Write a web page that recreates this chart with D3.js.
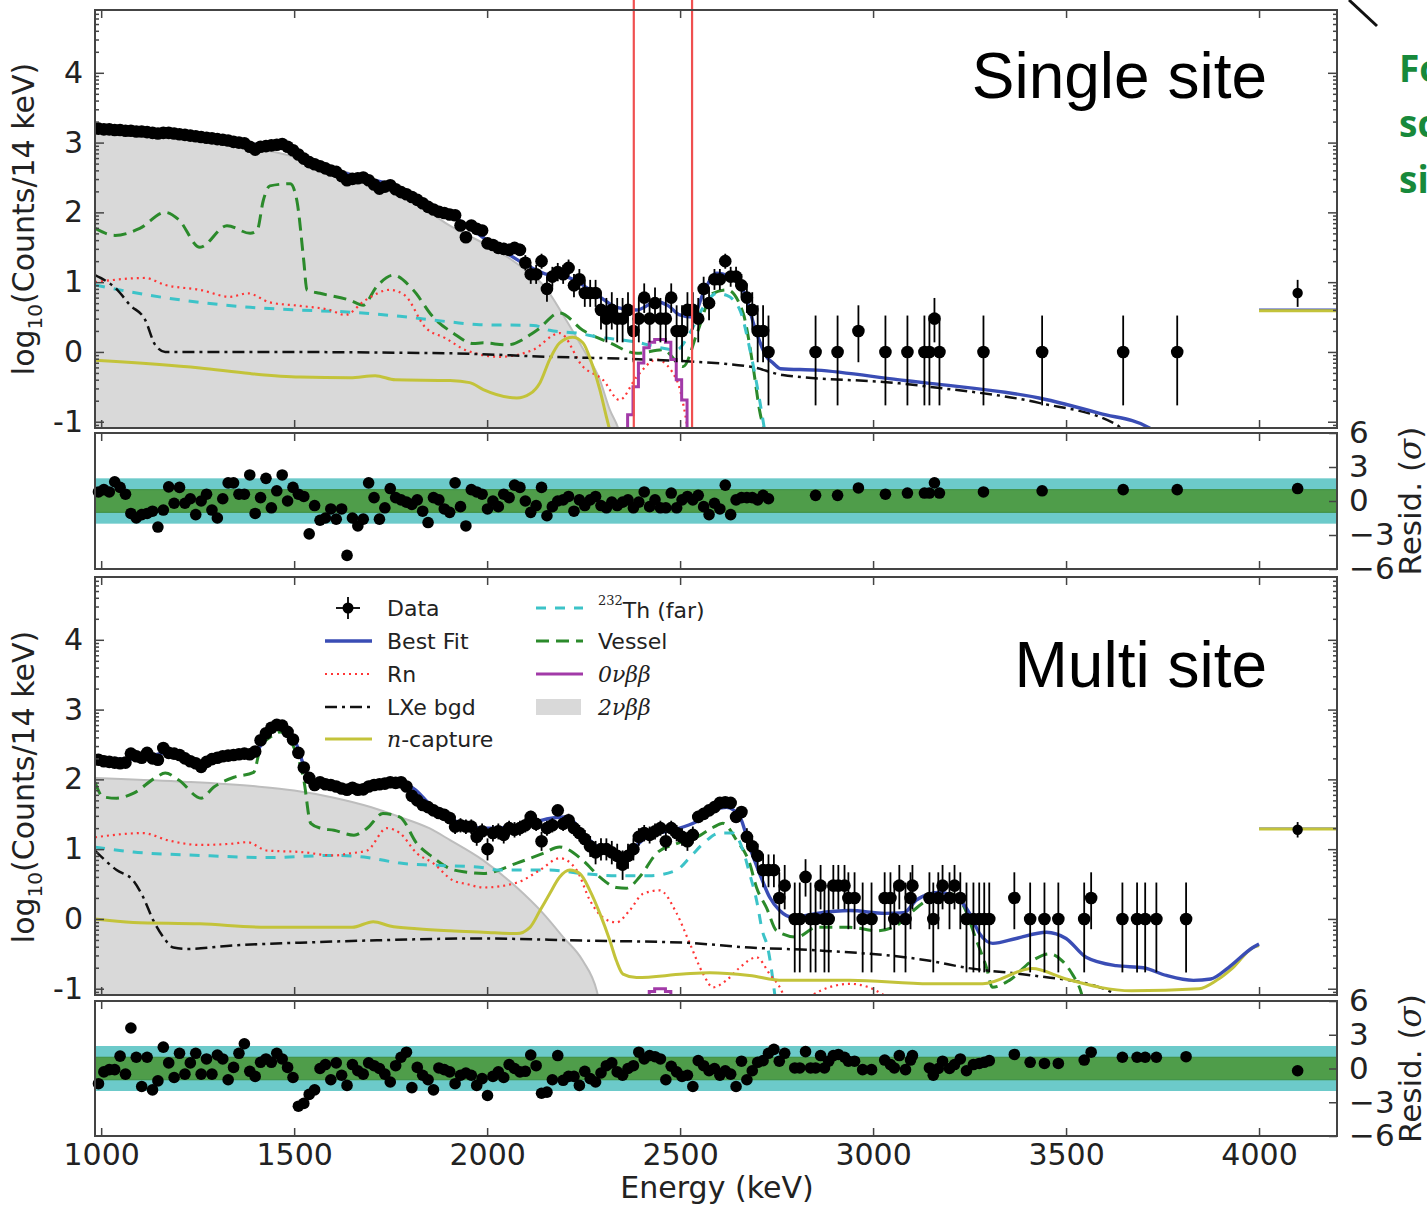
<!DOCTYPE html>
<html>
<head>
<meta charset="utf-8">
<script src="https://cdn.jsdelivr.net/npm/d3@7"></script>
<style>
body { margin: 0; background: #fff; }
svg { display: block; }
</style>
</head>
<body>
<div id="container"></div>
<script>
// ---------- data ----------
// histogram bins: 14 keV wide, first bin centred at 993 keV
var binStart = 993, binWidth = 14;

// single site: counts per bin
var ssCounts = [
  1585,1549,1549,1514,1514,1479,1479,1445,1445,1413,
  1380,1349,1380,1380,1349,1318,1288,1259,1230,1202,
  1175,1148,1122,1096,1072,1023,1000,977,871,794,
  871,891,912,933,955,871,776,676,589,525,
  490,457,427,398,380,331,288,302,309,316,
  288,251,219,234,245,214,195,182,166,151,
  135,120,110,102,98,93,91,65,44,65,
  58,55,36,34,31,30,29,31,29,19,
  13,13,20,8,12,14,13,16,9,11,
  7,7,7,4,3,4,3,3,4,2,
  3,6,3,5,3,3,6,2,2,4,
  4,3,8,5,11,11,20,12,12,9,
  6,4,2,2,1
];
var ssResid = [
  0.8,1.0,0.8,1.7,1.2,0.6,-1.1,-1.5,-1.2,-1.1,
  -0.9,-2.3,-0.8,1.25,-0.2,1.2,-0.2,0.2,-1.2,0,
  0.6,-0.8,-1.5,0.2,1.6,1.6,0.6,0.6,2.3,-1.1,
  0.3,2.0,-0.6,0.9,2.3,0,1.2,0.6,0.4,-2.9,
  -0.4,-1.7,-1.5,-0.7,-1.6,-0.7,-4.8,-1.5,-2.2,-1.6,
  1.6,0.3,-1.6,-0.6,1.1,0.3,0.1,-0.1,-0.3,0.1,
  -0.9,-1.9,0.3,0.1,-0.7,-1.0,1.6,-0.5,-2.2,1.0,
  0.8,0.6,-0.7,0,-0.5,0.6,0.3,1.4,1.2,0,
  -1.0,-0.4,1.2,-1.3,-0.5,0,0.1,0.4,-0.9,0.1,
  -0.4,0.1,0.4,-0.4,-0.6,-0.1,-0.4,-0.1,0.1,-0.6,
  -0.1,0.8,-0.5,0.1,-0.6,-0.6,0.7,-0.6,0.1,0.4,
  0.1,0.5,-0.5,-1.2,-0.2,-0.7,1.4,-1.2,0.1,0.3,
  0.3,0.3,0.1,0.5,0.2
];
// isolated non-empty bins above the dense region (last one = overflow bin)
var ssSparseE = [2851,2908,2962,3032,3089,3133,3146,3159,3172,3286,3438,3648,3788,4100];
var ssSparseN = [1,1,2,1,1,1,1,3,1,1,1,1,1,7];
var ssSparseR = [0.5,0.5,1.15,0.6,0.7,0.7,0.7,1.6,0.7,0.8,0.9,1.0,1.0,1.1];

// single site model components: [energy keV, log10 counts]
var ssTwoNu = [[984,3.19],[1100,3.13],[1200,3.07],[1300,3.0],[1400,2.92],[1500,2.8],[1600,2.64],[1700,2.45],[1800,2.2],[1900,1.82],[2000,1.53],[2050,1.37],[2100,1.17],[2150,0.93],[2200,0.5],[2250,0.03],[2292,-0.4],[2318,-0.83],[2340,-1.1],[2350,-1.3]];
var ssVessel = [[984,1.77],[1036,1.67],[1100,1.77],[1166,2.0],[1200,1.9],[1256,1.5],[1326,1.81],[1386,1.7],[1404,1.74],[1420,2.17],[1437,2.38],[1490,2.41],[1507,2.17],[1525,1.3],[1533,0.89],[1567,0.84],[1645,0.74],[1679,0.67],[1713,0.93],[1757,1.1],[1808,0.89],[1860,0.5],[1912,0.27],[1964,0.12],[1990,0.13],[2051,0.1],[2129,0.31],[2188,0.56],[2248,0.31],[2318,0.13],[2388,-0.02],[2456,0.03],[2508,-0.21],[2544,0.27],[2585,0.84],[2622,0.89],[2663,0.56],[2689,-0.21],[2707,-0.87],[2733,-1.3]];
var ssThorium = [[984,0.96],[1127,0.81],[1256,0.71],[1386,0.64],[1515,0.6],[1645,0.57],[1774,0.51],[1904,0.43],[1981,0.39],[2120,0.38],[2162,0.31],[2232,0.27],[2292,0.21],[2352,0.17],[2396,0.13],[2440,0.07],[2491,0.03],[2525,0.27],[2560,0.64],[2595,0.84],[2621,0.81],[2655,0.6],[2681,0.03],[2706,-0.69],[2724,-1.3]];
var ssRadon = [[984,1.0],[1114,1.06],[1166,0.96],[1256,0.89],[1334,0.79],[1380,0.84],[1437,0.71],[1515,0.66],[1593,0.6],[1632,0.53],[1684,0.74],[1748,0.89],[1787,0.81],[1840,0.35],[1891,0.2],[1947,0.02],[2033,-0.07],[2119,0.03],[2188,0.27],[2248,-0.21],[2300,-0.4],[2343,-0.69],[2387,-0.36],[2439,-0.11],[2491,-0.4],[2510,-0.8],[2525,-1.3]];
var ssLXe = [[984,1.1],[1040,0.9],[1075,0.67],[1114,0.46],[1140,0.1],[1166,0.0],[1400,0.0],[1904,-0.02],[2162,-0.07],[2420,-0.11],[2680,-0.21],[2766,-0.33],[3068,-0.45],[3147,-0.5],[3430,-0.73],[3630,-1.04],[3670,-1.3]];
var ssNCapture = [[984,-0.12],[1256,-0.23],[1386,-0.31],[1515,-0.36],[1645,-0.37],[1710,-0.34],[1762,-0.4],[1904,-0.41],[1955,-0.44],[1990,-0.54],[2077,-0.66],[2111,-0.6],[2137,-0.44],[2162,-0.11],[2188,0.13],[2222,0.21],[2248,0.13],[2274,-0.21],[2292,-0.54],[2309,-0.93],[2326,-1.3]];
var ssZeroNu = [[2357,-1.3],[2371,-0.9],[2385,-0.5],[2399,-0.16],[2413,0.06],[2427,0.14],[2441,0.18],[2455,0.18],[2469,0.14],[2483,-0.11],[2497,-0.4],[2511,-0.69],[2525,-1.1],[2539,-1.3]];
var ssBestFit = [[984,3.2],[1100,3.15],[1200,3.08],[1300,3.02],[1380,2.97],[1440,2.98],[1500,2.87],[1560,2.7],[1620,2.58],[1700,2.47],[1760,2.38],[1800,2.27],[1860,2.1],[1900,1.98],[1950,1.8],[2000,1.6],[2050,1.42],[2100,1.25],[2150,1.12],[2205,1.08],[2250,0.95],[2292,0.79],[2335,0.64],[2387,0.6],[2439,0.72],[2470,0.66],[2499,0.53],[2533,0.5],[2560,0.84],[2595,1.13],[2629,1.07],[2663,0.89],[2698,0.27],[2724,-0.07],[2741,-0.16],[2760,-0.24],[2854,-0.26],[3068,-0.4],[3147,-0.45],[3430,-0.66],[3587,-0.88],[3716,-1.09],[3760,-1.3]];
var ssOverflowFit = 0.61, ssOverflowNCap = 0.59;

// multi site: counts per bin
var msCounts = [
  191,182,178,174,170,174,234,214,204,240,
  200,191,282,240,234,224,200,182,170,151,
  178,195,204,214,219,224,229,234,229,251,
  363,457,550,603,589,479,372,240,148,105,
  83,91,85,83,79,74,71,76,71,72,
  79,83,85,87,91,89,91,79,58,50,
  43,40,36,33,31,28,21,22,21,21,
  15,18,10,17,18,16,20,19,20,22,
  29,23,13,20,22,36,23,26,20,17,
  14,11,9,10,10,9,8,6,8,10,
  15,17,16,18,20,13,20,17,15,13,
  16,29,32,36,40,46,47,46,29,34,
  15,11,8,5,5,5,2,3
];
var msResid = [
  -1.35,-0.3,-0.1,-0.1,1.1,-0.5,3.6,1.0,-1.6,1.0,
  -1.9,-1.1,1.9,0.5,-0.8,1.35,-0.5,0.5,1.35,-0.5,
  0.85,-0.5,1.2,0.85,-1.0,0.1,1.35,2.2,-0.25,-0.7,
  0.55,0.85,0.55,1.35,0.85,0.1,-0.8,-3.35,-3.1,-2.3,
  -1.9,0,0.35,-1.0,0.5,-0.6,-1.5,0.35,-0.2,-0.5,
  0.5,0.25,0,-0.5,-1.2,0.25,1.0,1.45,-1.7,0.1,
  -0.6,-1.0,-1.9,0.05,-0.1,-0.3,-1.35,-0.6,-0.4,-0.6,
  -1.5,-0.9,-2.4,-0.7,-0.3,-0.8,0.35,0,-0.3,-0.25,
  1.2,0.25,-2.2,-2.1,-1.0,1.15,-1.05,-0.7,-0.7,-1.5,
  -0.25,-0.9,-1.2,-0.4,0.25,0.5,-0.3,-0.6,0,0.25,
  1.45,0.85,1.15,1.05,0.85,-1.0,0.2,-0.3,-0.7,-0.6,
  -1.6,0.7,0.25,-0.2,0,-0.6,-0.2,-0.5,-1.6,0.65,
  -1.0,-0.2,0.55,0.7,1.35,1.7,0.65,1.35
];
var msSparseE = [2797,2810,2825,2838,2851,2864,2874,2885,2897,2910,2926,2936,2952,2973,2996,3030,3045,3055,3068,3084,3097,3102,3146,3156,3169,3180,3198,3211,3226,3242,3260,3275,3288,3301,3366,3407,3444,3480,3547,3565,3646,3684,3705,3734,3811,4100];
var msSparseN = [1,1,4,1,1,3,1,1,3,3,3,2,2,1,1,2,2,1,3,1,2,3,2,1,2,3,2,3,2,1,1,1,1,1,2,1,1,1,1,2,1,1,1,1,1,19];
var msSparseR = [0.05,0.05,1.5,0.05,0.05,1.15,0.05,0.65,1.15,1.25,1.0,0.65,0.65,-0.1,-0.1,0.75,0.35,0.05,1.15,-0.1,0.75,1.15,0.05,-0.6,0,0.65,0,0.35,0.85,-0.2,0.35,0.45,0.55,0.7,1.25,0.55,0.45,0.45,0.75,1.45,1.0,1.0,1.0,1.0,1.05,-0.2];

// multi site model components
var msTwoNu = [[984,2.02],[1200,1.97],[1400,1.9],[1500,1.84],[1600,1.74],[1700,1.6],[1774,1.46],[1850,1.3],[1904,1.13],[1990,0.84],[2077,0.45],[2145,0.08],[2197,-0.26],[2248,-0.6],[2284,-1.03],[2295,-1.3]];
var msVessel = [[984,1.96],[1005,1.75],[1040,1.73],[1083,1.8],[1140,2.02],[1166,2.09],[1201,1.99],[1259,1.73],[1292,1.89],[1344,2.03],[1395,2.1],[1413,2.46],[1439,2.61],[1465,2.68],[1499,2.46],[1525,1.99],[1543,1.37],[1569,1.3],[1603,1.27],[1655,1.2],[1689,1.3],[1730,1.51],[1774,1.46],[1818,1.08],[1860,0.88],[1904,0.72],[1947,0.67],[1990,0.65],[2077,0.8],[2145,0.94],[2188,1.03],[2248,0.84],[2292,0.6],[2335,0.45],[2361,0.44],[2395,0.6],[2439,0.94],[2491,1.08],[2543,1.17],[2585,1.31],[2611,1.37],[2646,1.13],[2680,0.8],[2698,0.45],[2724,0.16],[2750,-0.17],[2802,-0.26],[2854,-0.12],[2940,-0.12],[3010,-0.17],[3060,-0.1],[3100,0.1],[3154,0.31],[3198,0.36],[3231,0.22],[3268,-0.31],[3294,-0.7],[3309,-0.98],[3353,-0.88],[3412,-0.6],[3457,-0.5],[3490,-0.6],[3516,-0.79],[3540,-1.07],[3550,-1.3]];
var msThorium = [[984,1.03],[1083,0.96],[1256,0.91],[1430,0.88],[1603,0.91],[1690,0.88],[1774,0.8],[1860,0.77],[1981,0.74],[2033,0.7],[2162,0.7],[2248,0.65],[2335,0.62],[2421,0.62],[2491,0.7],[2525,0.88],[2560,1.08],[2603,1.23],[2637,1.23],[2663,0.98],[2680,0.65],[2698,0.27],[2713,-0.17],[2727,-0.41],[2745,-1.07],[2750,-1.3]];
var msRadon = [[984,1.17],[1109,1.23],[1171,1.13],[1256,1.06],[1342,1.08],[1378,1.1],[1430,0.98],[1515,0.96],[1603,0.91],[1645,0.94],[1689,0.98],[1740,1.3],[1774,1.23],[1818,0.94],[1860,0.8],[1912,0.55],[1947,0.5],[1990,0.45],[2077,0.52],[2137,0.7],[2188,0.87],[2232,0.7],[2266,0.27],[2300,0.02],[2335,-0.05],[2369,0.12],[2404,0.36],[2447,0.41],[2491,0.08],[2525,-0.35],[2560,-0.79],[2585,-0.98],[2620,-0.88],[2654,-0.7],[2698,-0.55],[2732,-0.79],[2766,-1.07],[2780,-1.3],[2800,-1.4],[2840,-1.1],[2940,-0.93],[3030,-1.1],[3060,-1.4]];
var msLXe = [[984,0.98],[1040,0.7],[1083,0.55],[1109,0.31],[1135,-0.02],[1161,-0.26],[1187,-0.41],[1222,-0.43],[1342,-0.38],[1515,-0.34],[1689,-0.31],[1981,-0.28],[2248,-0.31],[2508,-0.34],[2681,-0.41],[2854,-0.45],[3147,-0.6],[3242,-0.7],[3413,-0.81],[3587,-0.98],[3630,-1.1],[3660,-1.3]];
var msNCapture = [[984,0.0],[1083,-0.05],[1256,-0.07],[1430,-0.12],[1650,-0.12],[1705,-0.04],[1748,-0.1],[1818,-0.14],[1904,-0.17],[1990,-0.19],[2077,-0.21],[2111,-0.12],[2137,0.12],[2162,0.36],[2188,0.6],[2214,0.7],[2240,0.65],[2266,0.41],[2292,0.08],[2318,-0.31],[2335,-0.6],[2352,-0.79],[2387,-0.84],[2508,-0.79],[2577,-0.77],[2680,-0.81],[2766,-0.88],[2940,-0.88],[3147,-0.93],[3284,-0.93],[3412,-0.71],[3500,-0.86],[3670,-1.03],[3845,-1.0],[3890,-0.88],[3932,-0.7],[3984,-0.41],[4000,-0.38]];
var msZeroNu = [[2413,-1.3],[2427,-1.04],[2441,-1.0],[2455,-1.0],[2469,-1.04],[2483,-1.3]];
var msBestFit = [[984,2.28],[1100,2.3],[1166,2.38],[1200,2.32],[1256,2.22],[1300,2.3],[1395,2.37],[1430,2.62],[1465,2.77],[1499,2.6],[1525,2.2],[1550,1.95],[1650,1.88],[1750,1.95],[1800,1.9],[1860,1.6],[1904,1.44],[1990,1.3],[2077,1.32],[2162,1.44],[2205,1.46],[2258,1.17],[2309,0.94],[2343,0.88],[2413,1.17],[2499,1.3],[2551,1.42],[2585,1.56],[2620,1.6],[2655,1.46],[2680,1.03],[2706,0.65],[2732,0.31],[2758,0.12],[2793,0.02],[2854,0.08],[2940,0.12],[3030,0.08],[3080,0.09],[3112,0.27],[3147,0.36],[3172,0.38],[3224,0.27],[3250,0.08],[3276,-0.21],[3310,-0.35],[3371,-0.28],[3449,-0.19],[3500,-0.28],[3552,-0.55],[3630,-0.67],[3700,-0.7],[3760,-0.81],[3830,-0.88],[3875,-0.86],[3920,-0.7],[3984,-0.41],[4000,-0.36]];
var msOverflowFit = 1.30, msOverflowNCap = 1.29;

// region of interest around Q(bb)
var roiEdges = [2380, 2531];
var xTicks = [1000, 1500, 2000, 2500, 3000, 3500, 4000];
var yTicks = [-1, 0, 1, 2, 3, 4];
var residTicks = [-6, -3, 0, 3, 6];

// ---------- drawing ----------
var W = 1427, H = 1207;
var svg = d3.select("div#container")
  .append("svg")
  .attr("width", W)
  .attr("height", H)
  .style("font-family", "'DejaVu Sans', sans-serif");

var x = d3.scaleLinear().domain([984, 4202]).range([95, 1337]);
var left = x.range()[0], right = x.range()[1];

var styles = {
  twoNu: "#d9d9d9",
  twoNuEdge: "#bdbdbd",
  vessel: {c: "#2b8a2b", w: 3, d: "13,7"},
  thorium: {c: "#3cc3c8", w: 3, d: "10,9"},
  radon: {c: "#ff3535", w: 2.2, d: "2,4"},
  lxe: {c: "#111111", w: 2.5, d: "12,5,3,5"},
  ncap: {c: "#c3c33a", w: 3, d: null},
  zeronu: {c: "#a23aa8", w: 3, d: null},
  fit: {c: "#3a4db5", w: 3.4, d: null}
};

// Gehrels approximations for Poisson 1-sigma limits
function upper(n) { return n + Math.sqrt(n + 0.75) + 1; }
function lower(n) { return n * Math.pow(1 - 1 / (9 * n) - 1 / (3 * Math.sqrt(n)), 3); }

function pointsFor(counts, resid, sE, sN, sR) {
  var pts = counts.map(function(n, i) { return {e: binStart + binWidth * i, n: n, r: resid[i]}; });
  sE.forEach(function(e, i) { pts.push({e: e, n: sN[i], r: sR[i]}); });
  return pts;
}

function drawPanel(p) {
  var y = d3.scaleLinear().domain([-1.09, 4.9]).range([p.bottom, p.top]);
  var ry = d3.scaleLinear().domain([-6, 6]).range([p.rBottom, p.rTop]);

  svg.append("clipPath").attr("id", "clip" + p.id)
    .append("rect")
    .attr("x", left).attr("y", p.top)
    .attr("width", right - left).attr("height", p.bottom - p.top);

  var g = svg.append("g").attr("clip-path", "url(#clip" + p.id + ")");

  var line = d3.line()
    .x(function(d) { return x(d[0]); })
    .y(function(d) { return y(d[1]); })
    .curve(d3.curveMonotoneX);
  var stepLine = d3.line()
    .x(function(d) { return x(d[0]); })
    .y(function(d) { return y(d[1]); })
    .curve(d3.curveStep);
  var area = d3.area()
    .x(function(d) { return x(d[0]); })
    .y0(p.bottom)
    .y1(function(d) { return y(d[1]); })
    .curve(d3.curveMonotoneX);

  // 2nbb filled shape
  g.append("path").attr("d", area(p.twoNu)).attr("fill", styles.twoNu);
  g.append("path").attr("d", line(p.twoNu)).attr("fill", "none")
    .attr("stroke", styles.twoNuEdge).attr("stroke-width", 2);

  function curve(data, s, gen) {
    g.append("path").attr("d", (gen || line)(data))
      .attr("fill", "none")
      .attr("stroke", s.c)
      .attr("stroke-width", s.w)
      .attr("stroke-dasharray", s.d);
  }
  curve(p.vessel, styles.vessel);
  curve(p.thorium, styles.thorium);
  curve(p.radon, styles.radon);
  curve(p.lxe, styles.lxe);
  curve(p.ncap, styles.ncap);
  curve(p.zeronu, styles.zeronu, stepLine);
  curve(p.fit, styles.fit);

  // overflow bin (4000 keV and up)
  g.append("line").attr("x1", x(4000)).attr("x2", right)
    .attr("y1", y(p.ovFit)).attr("y2", y(p.ovFit))
    .attr("stroke", styles.fit.c).attr("stroke-width", 1.5);
  g.append("line").attr("x1", x(4000)).attr("x2", right)
    .attr("y1", y(p.ovNCap)).attr("y2", y(p.ovNCap))
    .attr("stroke", styles.ncap.c).attr("stroke-width", 3);

  if (p.roi) {
    svg.selectAll(null).data(roiEdges).enter().append("line")
      .attr("x1", function(d) { return x(d); })
      .attr("x2", function(d) { return x(d); })
      .attr("y1", 0).attr("y2", p.bottom)
      .attr("stroke", "#f05050").attr("stroke-width", 2.2);
  }

  // data with error bars
  var pts = p.points;
  g.selectAll(".err").data(pts).enter().append("line")
    .attr("x1", function(d) { return x(d.e); })
    .attr("x2", function(d) { return x(d.e); })
    .attr("y1", function(d) { return y(Math.log10(upper(d.n))); })
    .attr("y2", function(d) { return y(Math.log10(lower(d.n))); })
    .attr("stroke", "#000").attr("stroke-width", 1.8);
  g.selectAll(".pt").data(pts).enter().append("circle")
    .attr("cx", function(d) { return x(d.e); })
    .attr("cy", function(d) { return y(Math.log10(d.n)); })
    .attr("r", function(d) { return d.e > 4000 ? 5.2 : 6.3; })
    .attr("fill", "#000");

  // frame
  svg.append("rect").attr("x", left).attr("y", p.top)
    .attr("width", right - left).attr("height", p.bottom - p.top)
    .attr("fill", "none").attr("stroke", "#444").attr("stroke-width", 2);

  // x ticks on top and bottom edges (inward)
  svg.append("g").attr("transform", "translate(0," + p.bottom + ")")
    .call(d3.axisBottom(x).tickValues(xTicks).tickSize(-8).tickSizeOuter(0).tickFormat(""));
  svg.append("g").attr("transform", "translate(0," + p.top + ")")
    .call(d3.axisTop(x).tickValues(xTicks).tickSize(-8).tickSizeOuter(0).tickFormat(""));

  // y axis, log-style minor ticks
  var minors = [];
  for (var dec = -2; dec <= 4; dec++) {
    for (var k = 2; k <= 9; k++) {
      var v = dec + Math.log10(k);
      if (v > -1.09 && v < 4.9) minors.push(v);
    }
  }
  var ya = svg.append("g").attr("transform", "translate(" + left + ",0)")
    .call(d3.axisLeft(y).tickValues(yTicks).tickSize(-9).tickSizeOuter(0).tickPadding(12)
      .tickFormat(function(d) { return d < 0 ? "-" + (-d) : d; }));
  svg.append("g").attr("transform", "translate(" + left + ",0)")
    .call(d3.axisLeft(y).tickValues(minors).tickSize(-4).tickSizeOuter(0).tickFormat(""));
  svg.append("g").attr("transform", "translate(" + right + ",0)")
    .call(d3.axisRight(y).tickValues(yTicks).tickSize(-9).tickSizeOuter(0).tickFormat(""));
  svg.append("g").attr("transform", "translate(" + right + ",0)")
    .call(d3.axisRight(y).tickValues(minors).tickSize(-4).tickSizeOuter(0).tickFormat(""));

  ya.selectAll("text").style("font-size", "30px").style("font-family", "'DejaVu Sans', sans-serif").attr("fill", "#222");

  // y label
  var yl = svg.append("text")
    .attr("transform", "translate(34," + p.labelY + ") rotate(-90)")
    .attr("text-anchor", "middle")
    .style("font-size", "30px")
    .attr("fill", "#222");
  yl.append("tspan").text("log");
  yl.append("tspan").attr("dy", 8).style("font-size", "20px").text("10");
  yl.append("tspan").attr("dy", -8).text("(Counts/14 keV)");

  // panel title
  svg.append("text").attr("x", 1267).attr("y", p.titleY)
    .attr("text-anchor", "end")
    .style("font-family", "'Liberation Sans', Arial, sans-serif")
    .style("font-size", "64px")
    .attr("fill", "#000")
    .text(p.title);

  // ---- residual panel ----
  svg.append("rect").attr("x", left).attr("width", right - left)
    .attr("y", ry(2)).attr("height", ry(-2) - ry(2)).attr("fill", "#6ccaca");
  svg.append("rect").attr("x", left).attr("width", right - left)
    .attr("y", ry(1)).attr("height", ry(-1) - ry(1)).attr("fill", "#4f9d4a");
  svg.selectAll(null).data([1, -1]).enter().append("line")
    .attr("x1", left).attr("x2", right)
    .attr("y1", function(d) { return ry(d); }).attr("y2", function(d) { return ry(d); })
    .attr("stroke", "#3f8f3f").attr("stroke-width", 1);

  svg.append("g").selectAll("circle").data(pts).enter().append("circle")
    .attr("cx", function(d) { return x(d.e); })
    .attr("cy", function(d) { return ry(d.r); })
    .attr("r", 5.8)
    .attr("fill", "#000");

  svg.append("rect").attr("x", left).attr("y", p.rTop)
    .attr("width", right - left).attr("height", p.rBottom - p.rTop)
    .attr("fill", "none").attr("stroke", "#444").attr("stroke-width", 2);

  svg.append("g").attr("transform", "translate(0," + p.rTop + ")")
    .call(d3.axisTop(x).tickValues(xTicks).tickSize(-8).tickSizeOuter(0).tickFormat(""));
  var xr = svg.append("g").attr("transform", "translate(0," + p.rBottom + ")")
    .call(d3.axisBottom(x).tickValues(xTicks).tickSize(-8).tickSizeOuter(0).tickPadding(8)
      .tickFormat(p.xLabels ? d3.format("d") : ""));
  xr.selectAll("text").style("font-size", "30px").style("font-family", "'DejaVu Sans', sans-serif").attr("fill", "#222");

  var rr = svg.append("g").attr("transform", "translate(" + right + ",0)")
    .call(d3.axisRight(ry).tickValues(residTicks).tickSize(-8).tickSizeOuter(0).tickPadding(12));
  rr.selectAll("text").style("font-size", "31px").style("font-family", "'DejaVu Sans', sans-serif").attr("fill", "#222");

  var rl = svg.append("text")
    .attr("transform", "translate(1421," + (p.rTop + p.rBottom) / 2 + ") rotate(-90)")
    .attr("text-anchor", "middle")
    .style("font-size", "31px")
    .attr("fill", "#222");
  rl.append("tspan").text("Resid. (");
  rl.append("tspan").style("font-family", "'DejaVu Serif', serif").style("font-style", "italic").text("σ");
  rl.append("tspan").text(")");

  // remove axis domain lines (frame drawn separately)
  svg.selectAll(".domain").remove();
  svg.selectAll(".tick line").attr("stroke", "#444").attr("stroke-width", 1.5);
}

drawPanel({
  id: "ss", top: 10, bottom: 428, rTop: 433, rBottom: 569, labelY: 219, titleY: 98,
  title: "Single site", roi: true, xLabels: false,
  twoNu: ssTwoNu, vessel: ssVessel, thorium: ssThorium, radon: ssRadon, lxe: ssLXe,
  ncap: ssNCapture, zeronu: ssZeroNu, fit: ssBestFit,
  ovFit: ssOverflowFit, ovNCap: ssOverflowNCap,
  points: pointsFor(ssCounts, ssResid, ssSparseE, ssSparseN, ssSparseR)
});

drawPanel({
  id: "ms", top: 577, bottom: 995, rTop: 1001, rBottom: 1136, labelY: 787, titleY: 687,
  title: "Multi site", roi: false, xLabels: true,
  twoNu: msTwoNu, vessel: msVessel, thorium: msThorium, radon: msRadon, lxe: msLXe,
  ncap: msNCapture, zeronu: msZeroNu, fit: msBestFit,
  ovFit: msOverflowFit, ovNCap: msOverflowNCap,
  points: pointsFor(msCounts, msResid, msSparseE, msSparseN, msSparseR)
});

// x axis label
svg.append("text").attr("x", 717).attr("y", 1198)
  .attr("text-anchor", "middle")
  .style("font-size", "30px")
  .attr("fill", "#222")
  .text("Energy (keV)");

// ---------- legend (multi site panel) ----------
var legendLeft = [
  {label: "Data", kind: "data"},
  {label: "Best Fit", kind: "fit"},
  {label: "Rn", kind: "radon"},
  {label: "LXe bgd", kind: "lxe"},
  {label: "n-capture", kind: "ncap"}
];
var legendRight = [
  {label: "Th (far)", kind: "thorium"},
  {label: "Vessel", kind: "vessel"},
  {label: "0νββ", kind: "zeronu"},
  {label: "2νββ", kind: "twoNu"}
];
var legRowY = [608, 641, 674, 707, 739];

var leg = svg.append("g").style("font-size", "22px").attr("fill", "#222");

function legendHandle(x0, yy, kind) {
  if (kind === "data") {
    leg.append("line").attr("x1", x0 + 11).attr("x2", x0 + 35).attr("y1", yy).attr("y2", yy)
      .attr("stroke", "#000").attr("stroke-width", 1.8);
    leg.append("line").attr("x1", x0 + 23).attr("x2", x0 + 23).attr("y1", yy - 11).attr("y2", yy + 11)
      .attr("stroke", "#000").attr("stroke-width", 1.8);
    leg.append("circle").attr("cx", x0 + 23).attr("cy", yy).attr("r", 5.5).attr("fill", "#000");
  } else if (kind === "twoNu") {
    leg.append("rect").attr("x", x0).attr("y", yy - 8).attr("width", 45).attr("height", 16)
      .attr("fill", styles.twoNu);
  } else {
    var s = styles[kind];
    leg.append("line").attr("x1", x0).attr("x2", x0 + 47).attr("y1", yy).attr("y2", yy)
      .attr("stroke", s.c).attr("stroke-width", s.w).attr("stroke-dasharray", s.d);
  }
}

legendLeft.forEach(function(d, i) {
  legendHandle(325, legRowY[i], d.kind);
  var t = leg.append("text").attr("x", 387).attr("y", legRowY[i]).attr("dy", "0.36em");
  if (d.kind === "ncap") {
    t.append("tspan").style("font-family", "'DejaVu Serif', serif").style("font-style", "italic").text("n");
    t.append("tspan").text("-capture");
  } else {
    t.text(d.label);
  }
});

legendRight.forEach(function(d, i) {
  legendHandle(536, legRowY[i], d.kind);
  var t = leg.append("text").attr("x", 598).attr("y", legRowY[i]).attr("dy", "0.36em");
  if (d.kind === "thorium") {
    t.append("tspan").style("font-family", "'DejaVu Serif', serif").style("font-size", "13px")
      .attr("dy", "-0.2em").text("232");
    t.append("tspan").attr("dy", "0.55em").text("Th (far)");
  } else if (d.kind === "zeronu" || d.kind === "twoNu") {
    t.style("font-family", "'DejaVu Serif', serif").style("font-style", "italic").text(d.label);
  } else {
    t.text(d.label);
  }
});

// ---------- slide fragments at the right edge ----------
svg.append("line").attr("x1", 1349).attr("y1", 0).attr("x2", 1377).attr("y2", 26)
  .attr("stroke", "#111").attr("stroke-width", 3);
var side = svg.append("g")
  .style("font-family", "'Open Sans', 'Noto Sans', sans-serif")
  .style("font-weight", "bold")
  .style("font-size", "37px")
  .attr("fill", "#17893b");
side.append("text").attr("x", 1399).attr("y", 82).text("Fo");
side.append("text").attr("x", 1399).attr("y", 137).text("sc");
side.append("text").attr("x", 1399).attr("y", 193).text("si");
</script>
</body>
</html>
